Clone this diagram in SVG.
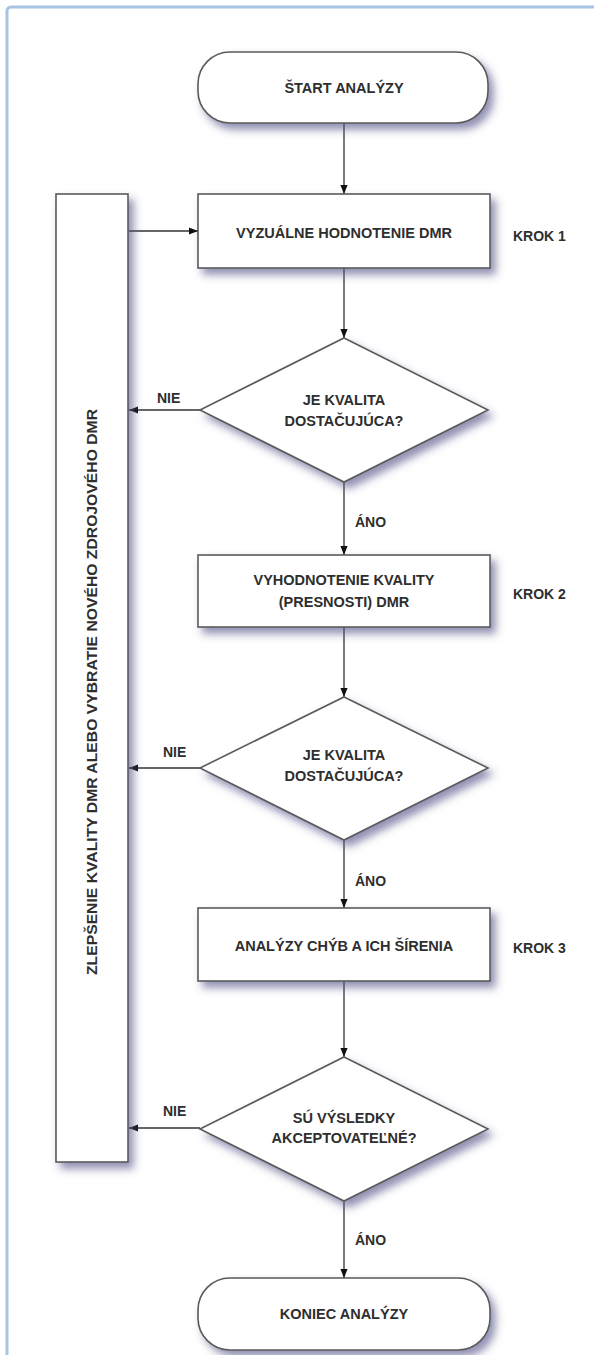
<svg xmlns="http://www.w3.org/2000/svg" width="594" height="1355" viewBox="0 0 594 1355">
<style>
.shape{fill:#fff;stroke:#5a5a5a;stroke-width:1.6;filter:url(#sh)}
.t{font-family:"Liberation Sans",Arial,sans-serif;font-weight:bold;font-size:14.5px;fill:#2e2e2e;text-anchor:middle}
.lbl{font-family:"Liberation Sans",Arial,sans-serif;font-weight:bold;font-size:14px;fill:#2e2e2e}
.c{fill:none;stroke:#333;stroke-width:1.3;marker-end:url(#ah)}
</style>
<defs>
<filter id="sh" x="-20%" y="-20%" width="150%" height="150%">
<feDropShadow dx="5" dy="6" stdDeviation="4" flood-color="#55558a" flood-opacity="0.65"/>
</filter>
<marker id="ah" viewBox="0 0 10 10" refX="10" refY="5" markerWidth="9" markerHeight="9" markerUnits="userSpaceOnUse" orient="auto">
<path d="M0,1 L10,5 L0,9 z" fill="#111"/>
</marker>
</defs>
<rect width="594" height="1355" fill="#fff"/>
<rect x="7" y="7" width="610" height="1370" rx="4" fill="none" stroke="#a9c3e3" stroke-width="3"/>

<g id="connectors">
<line class="c" x1="344" y1="123" x2="344" y2="194"/>
<line class="c" x1="129" y1="231" x2="198" y2="231"/>
<line class="c" x1="344" y1="268" x2="344" y2="338"/>
<line class="c" x1="200" y1="410" x2="129" y2="410"/>
<line class="c" x1="344" y1="482" x2="344" y2="555"/>
<line class="c" x1="344" y1="627" x2="344" y2="697"/>
<line class="c" x1="200" y1="768" x2="129" y2="768"/>
<line class="c" x1="344" y1="840" x2="344" y2="908"/>
<line class="c" x1="344" y1="981" x2="344" y2="1057"/>
<line class="c" x1="200" y1="1128" x2="129" y2="1128"/>
<line class="c" x1="344" y1="1201" x2="344" y2="1278"/>
<text class="lbl" x="157" y="403">NIE</text>
<text class="lbl" x="163" y="757">NIE</text>
<text class="lbl" x="163" y="1116">NIE</text>
<text class="lbl" x="355" y="527">ÁNO</text>
<text class="lbl" x="355" y="886">ÁNO</text>
<text class="lbl" x="355" y="1245">ÁNO</text>
</g>

<g id="start">
<rect class="shape" x="198" y="52" width="290" height="71" rx="32"/>
<text class="t" x="344" y="93">ŠTART ANALÝZY</text>
</g>

<g id="improve">
<rect class="shape" x="56" y="194" width="72" height="968"/>
<text class="t" transform="translate(97,692) rotate(-90)" textLength="566" lengthAdjust="spacingAndGlyphs">ZLEPŠENIE KVALITY DMR ALEBO VYBRATIE NOVÉHO ZDROJOVÉHO DMR</text>
</g>

<g id="step1">
<rect class="shape" x="198" y="194" width="292" height="74"/>
<text class="t" x="344" y="238">VYZUÁLNE HODNOTENIE DMR</text>
<text class="lbl" x="513" y="241">KROK 1</text>
</g>

<g id="decision1">
<polygon class="shape" points="344,338 488,410 344,482 200,410"/>
<text class="t" x="344" y="405">JE KVALITA</text>
<text class="t" x="344" y="426">DOSTAČUJÚCA?</text>
</g>

<g id="step2">
<rect class="shape" x="198" y="555" width="292" height="72"/>
<text class="t" x="344" y="585">VYHODNOTENIE KVALITY</text>
<text class="t" x="344" y="607">(PRESNOSTI) DMR</text>
<text class="lbl" x="513" y="599">KROK 2</text>
</g>

<g id="decision2">
<polygon class="shape" points="344,697 488,768 344,840 200,768"/>
<text class="t" x="344" y="760">JE KVALITA</text>
<text class="t" x="344" y="781">DOSTAČUJÚCA?</text>
</g>

<g id="step3">
<rect class="shape" x="198" y="908" width="292" height="73"/>
<text class="t" x="344" y="951">ANALÝZY CHÝB A ICH ŠÍRENIA</text>
<text class="lbl" x="513" y="953">KROK 3</text>
</g>

<g id="decision3">
<polygon class="shape" points="344,1057 488,1129 344,1201 200,1129"/>
<text class="t" x="344" y="1123">SÚ VÝSLEDKY</text>
<text class="t" x="344" y="1143">AKCEPTOVATEĽNÉ?</text>
</g>

<g id="end">
<rect class="shape" x="198" y="1278" width="292" height="72" rx="32"/>
<text class="t" x="344" y="1319">KONIEC ANALÝZY</text>
</g>
</svg>
